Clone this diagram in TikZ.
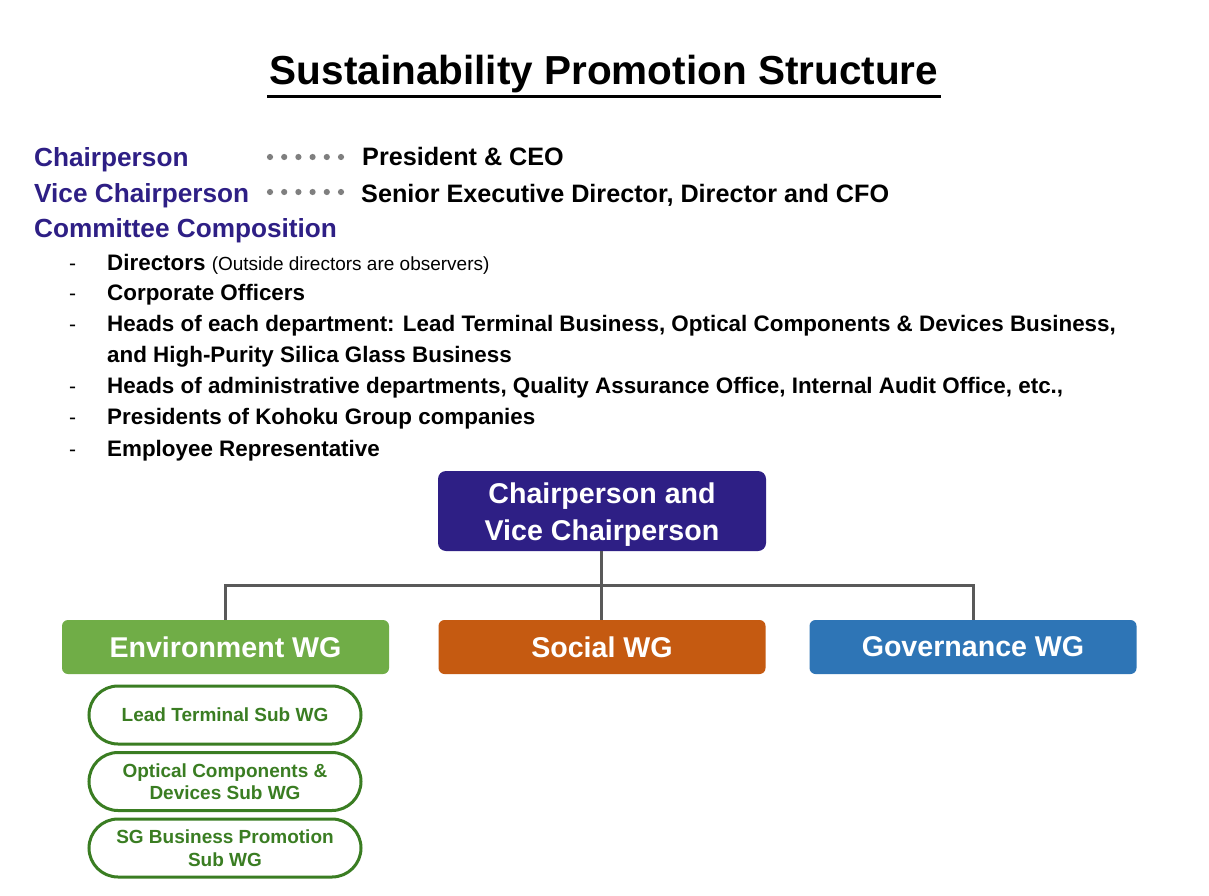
\documentclass[tikz,border=0pt]{standalone}
\usepackage{fontspec}
\setmainfont{Liberation Sans}
\definecolor{cpurple}{HTML}{2E1F85}
\definecolor{cgreen}{HTML}{70AD47}
\definecolor{corange}{HTML}{C55A11}
\definecolor{cblue}{HTML}{2E75B6}
\definecolor{cdkgreen}{HTML}{3A7D22}
\definecolor{cline}{HTML}{595959}
\definecolor{cdots}{HTML}{7F7F7F}
\begin{document}
\begin{tikzpicture}[x=1pt,y=-1pt,
  head/.style={anchor=base west,inner sep=0pt,text=cpurple,font=\fontsize{26.2}{30}\selectfont\bfseries},
  val/.style={anchor=base west,inner sep=0pt,text=black,font=\fontsize{25.2}{29}\selectfont\bfseries},
  item/.style={anchor=base west,inner sep=0pt,text=black,font=\fontsize{22.4}{26}\selectfont\bfseries},
  dashmark/.style={anchor=base west,inner sep=0pt,text=black,font=\fontsize{21}{25}\selectfont},
  topbox/.style={draw=none,fill=cpurple,rounded corners=8pt,minimum width=328pt,minimum height=80pt},
  toptext/.style={inner sep=0pt,text=white,align=center,font=\fontsize{28.6}{37}\selectfont\bfseries},
  wgbox/.style={draw=none,rounded corners=6pt,minimum width=327pt,minimum height=54pt,text=white,align=center,font=\fontsize{28.6}{32}\selectfont\bfseries},
  subbox/.style={draw=cdkgreen,line width=3pt,rounded corners=29pt,minimum width=272pt,minimum height=58pt,text=cdkgreen,align=center,font=\fontsize{19}{22.5}\selectfont\bfseries},
  conn/.style={draw=cline,line width=3pt},
  dotrow/.style={fill=cdots,draw=none}
]
\useasboundingbox (0,0) rectangle (1209,896);
\fill[white] (0,0) rectangle (1209,896);

% Title
\node[inner sep=0pt,anchor=base,font=\fontsize{40.5}{46}\selectfont\bfseries] (title) at (604,85) {Sustainability Promotion Structure};
\coordinate (ulL) at (267,97);
\coordinate (ulR) at (941,97);
\draw[line width=3pt] (ulL) -- (ulR);

% Header lines
\node[head] (h1) at (34,167) {Chairperson};
\node[head] (h2) at (34,202) {Vice Chairperson};
\node[head] (h3) at (34,237) {Committee Composition};
\foreach \i in {0,...,5} {
  \fill[dotrow] (270+\i*14.2,157) circle (3.1pt);
  \fill[dotrow] (270+\i*14.2,192) circle (3.1pt);
}
\node[val] (v1) at (362,166) {President \& CEO};
\node[val] (v2) at (361,202) {Senior Executive Director, Director and CFO};

% List
\foreach \y in {270,300,331,393,424,456} {
  \node[dashmark] at (69,\y) {-};
}
\node[item] (l1) at (107,270) {Directors \mdseries\fontsize{19}{22}\selectfont(Outside directors are observers)};
\node[item] (l2) at (107,300) {Corporate Officers};
\node[item] (l3) at (107,331) {Heads of each department: Lead Terminal Business, Optical Components \& Devices Business,};
\node[item] (l3b) at (107,362) {and High-Purity Silica Glass Business};
\node[item] (l4) at (107,393) {Heads of administrative departments, Quality Assurance Office, Internal Audit Office, etc.,};
\node[item] (l5) at (107,424) {Presidents of Kohoku Group companies};
\node[item] (l6) at (107,456) {Employee Representative};

% Org chart
\node[topbox] (chair) at (602,511) {};
\node[toptext] (chairtext) at ([yshift=-3.5pt]chair.center) {Chairperson and\\Vice Chairperson};
\node[wgbox,fill=cgreen] (env) at (225.5,647) {Environment WG};
\node[wgbox,fill=corange] (soc) at (602,647) {Social WG};
\node[wgbox,fill=cblue] (gov) at (973,647) {Governance WG};

\coordinate (bus) at (601,585);
\draw[conn] (chair.south -| bus) -- (bus);
\draw[conn] (env.north) |- (bus) -| (gov.north);
\draw[conn] (bus) -- (bus |- soc.north);

\node[subbox] (s1) at (225,715) {Lead Terminal Sub WG};
\node[subbox] (s2) at (225,781.5) {Optical Components \&\\Devices Sub WG};
\node[subbox] (s3) at (225,848) {SG Business Promotion\\Sub WG};
\end{tikzpicture}
\end{document}
